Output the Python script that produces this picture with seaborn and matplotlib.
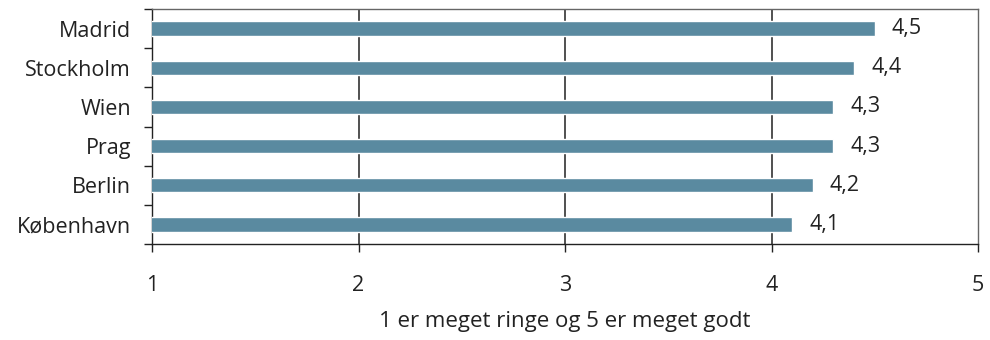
import matplotlib
matplotlib.use("Agg")
import matplotlib.pyplot as plt
from matplotlib.ticker import FixedLocator
import seaborn as sns
import pandas as pd

cities = ["Madrid", "Stockholm", "Wien", "Prag", "Berlin", "København"]
scores = [4.5, 4.4, 4.3, 4.3, 4.2, 4.1]
x_ticks = [1, 2, 3, 4, 5]
x_label = "1 er meget ringe og 5 er meget godt"

sns.set_theme(style="white")
plt.rcParams["font.family"] = ["Open Sans", "DejaVu Sans"]

df = pd.DataFrame({"by": cities, "score": scores})

fig = plt.figure(figsize=(9.9, 3.4), dpi=100)
ax = fig.add_axes([152 / 990, 1 - 244 / 340, (978 - 152) / 990, (244 - 9) / 340])

sns.barplot(data=df, x="score", y="by", orient="h", color="#5a8aa0",
            saturation=1, width=0.37, ax=ax, zorder=3)

ax.set_xlim(1, 5)
ax.set_ylim(len(cities) - 0.5, -0.5)
ax.set_xticks(x_ticks)
ax.set_xticklabels([str(t) for t in x_ticks])
ax.set_xlabel(x_label, fontsize=16, color="#222222", labelpad=11)
ax.set_ylabel("")

# vertical gridlines at the inner ticks, drawn behind the bars
for t in x_ticks[1:-1]:
    ax.axvline(t, color="#505050", lw=1.4, zorder=1)

# value labels with a Danish decimal comma
for i, v in enumerate(scores):
    ax.text(v + 0.082, i, f"{v:.1f}".replace(".", ","), va="center", ha="left",
            fontsize=15.5, color="#222222")

# category separators as outward ticks on the left spine
ax.yaxis.set_minor_locator(FixedLocator([i + 0.5 for i in range(-1, len(cities))]))
ax.tick_params(axis="y", which="major", length=0, pad=15, labelsize=15.5,
               labelcolor="#222222")
ax.tick_params(axis="y", which="minor", left=True, length=6, width=1, color="#222222")
ax.tick_params(axis="x", which="major", bottom=True, length=6, width=1,
               color="#222222", pad=16, labelsize=15.5, labelcolor="#222222")

for side in ["left", "bottom"]:
    ax.spines[side].set_color("#222222")
    ax.spines[side].set_linewidth(1.0)
for side in ["top", "right"]:
    ax.spines[side].set_color("#666666")
    ax.spines[side].set_linewidth(1.0)

fig.savefig("out.png", dpi=100)
